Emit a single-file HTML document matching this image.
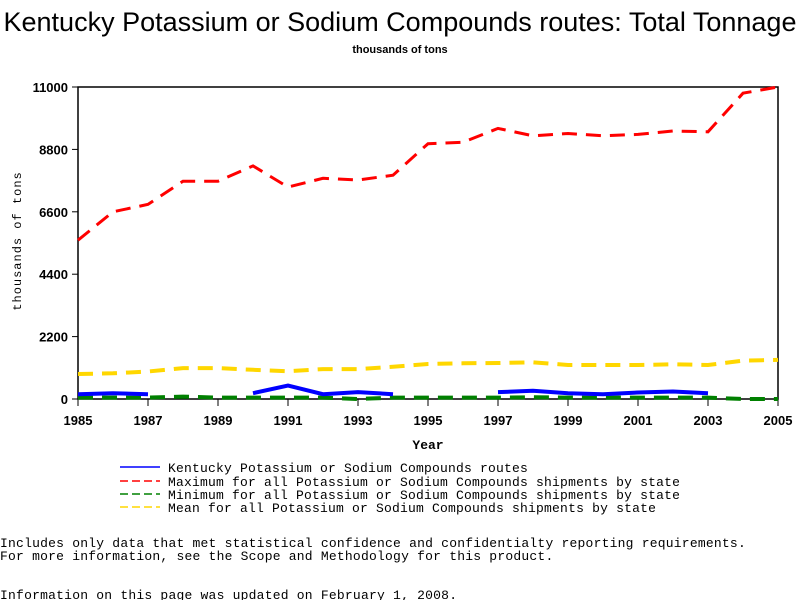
<!DOCTYPE html>
<html><head><meta charset="utf-8"><style>
body{margin:0;background:#fff;width:800px;height:600px;overflow:hidden}
svg{display:block}
.mono{font-family:"Liberation Mono",monospace;font-size:13px;letter-spacing:0.22px}
</style></head><body>
<svg id="chart" width="800" height="600" xmlns="http://www.w3.org/2000/svg">
<text x="400" y="31" text-anchor="middle" font-family="Liberation Sans, sans-serif" font-size="27">Kentucky Potassium or Sodium Compounds routes: Total Tonnage</text>
<text x="400" y="53" text-anchor="middle" font-family="Liberation Sans, sans-serif" font-size="11" font-weight="bold">thousands of tons</text>
<text transform="translate(21,241) rotate(-90)" text-anchor="middle" font-family="Liberation Mono, monospace" font-size="12" letter-spacing="1">thousands of tons</text>
<text x="428" y="449" text-anchor="middle" font-family="Liberation Mono, monospace" font-size="13" font-weight="bold">Year</text>
<g id="axes"></g>
<g id="series"></g>
<g font-family="Liberation Mono, monospace" font-size="13" letter-spacing="0.2">
<line x1="120" y1="467" x2="160" y2="467" stroke="#0000ff" stroke-width="1.5"/>
<text x="168" y="472">Kentucky Potassium or Sodium Compounds routes</text>
<line x1="120" y1="481" x2="160" y2="481" stroke="#ff0000" stroke-width="1.5" stroke-dasharray="8,4"/>
<text x="168" y="486">Maximum for all Potassium or Sodium Compounds shipments by state</text>
<line x1="120" y1="494" x2="160" y2="494" stroke="#008000" stroke-width="1.5" stroke-dasharray="8,4"/>
<text x="168" y="499">Minimum for all Potassium or Sodium Compounds shipments by state</text>
<line x1="120" y1="507" x2="160" y2="507" stroke="#ffd700" stroke-width="1.5" stroke-dasharray="8,4"/>
<text x="168" y="512">Mean for all Potassium or Sodium Compounds shipments by state</text>
</g>
<text x="0" y="547" class="mono">Includes only data that met statistical confidence and confidentialty reporting requirements.</text>
<text x="0" y="560" class="mono">For more information, see the Scope and Methodology for this product.</text>
<text x="0" y="599" class="mono">Information on this page was updated on February 1, 2008.</text>
</svg>
<script>
const years=[1985,1986,1987,1988,1989,1990,1991,1992,1993,1994,1995,1996,1997,1998,1999,2000,2001,2002,2003,2004,2005];
const kentucky=[170,206,170,null,null,206,472,170,242,170,null,null,242,290,206,170,230,266,206,null,null];
const maximum=[5600,6600,6860,7680,7680,8220,7470,7780,7720,7890,9000,9050,9540,9280,9360,9280,9330,9450,9420,10780,11000];
const minimum=[48,48,48,85,48,48,48,48,0,48,48,48,48,60,48,48,48,48,48,0,0];
const mean=[883,907,968,1089,1089,1028,980,1053,1053,1137,1234,1258,1270,1295,1198,1198,1198,1222,1198,1355,1380];
const yTicks=[0,2200,4400,6600,8800,11000];
const xTickLabels=[1985,1987,1989,1991,1993,1995,1997,1999,2001,2003,2005];
const NS="http://www.w3.org/2000/svg";
const X0=78,X1=778,Y0=399,Y1=87,YMAX=11000;
function xs(y){return X0+(y-1985)/(2005-1985)*(X1-X0);}
function ys(v){return Y0-v/YMAX*(Y0-Y1);}
function mk(tag,attrs,parent){const e=document.createElementNS(NS,tag);for(const k in attrs)e.setAttribute(k,attrs[k]);parent.appendChild(e);return e;}
const axes=document.getElementById('axes');
const frame=mk('rect',{x:X0,y:Y1,width:X1-X0,height:Y0-Y1,fill:'none',stroke:'#000','stroke-width':1.5},axes);


yTicks.forEach(t=>{
  const l=mk('line',{x1:X0-6,x2:X0,y1:ys(t),y2:ys(t),stroke:'#000','stroke-width':1},axes);
  
  
  const tx=mk('text',{x:X0-10,y:ys(t)+5,'text-anchor':'end','font-family':'Liberation Sans, sans-serif','font-size':13,'font-weight':'bold'},axes);
  tx.textContent=t;
  
  
});
xTickLabels.forEach(t=>{
  const l=mk('line',{x1:xs(t),x2:xs(t),y1:Y0,y2:Y0+7,stroke:'#000','stroke-width':1},axes);
  
  
  const tx=mk('text',{x:xs(t),y:Y0+26,'text-anchor':'middle','font-family':'Liberation Sans, sans-serif','font-size':13,'font-weight':'bold'},axes);
  tx.textContent=t;
  
  
});
const sg=document.getElementById('series');
function draw(vals,color,dash,w,name){
  let d='',pen=false;
  vals.forEach((v,i)=>{
    if(v===null){pen=false;return;}
    d+=(pen?'L':'M')+xs(years[i]).toFixed(1)+','+ys(v).toFixed(1)+' ';pen=true;
  });
  const p=mk('path',{d:d,fill:'none',stroke:color,'stroke-width':w,'stroke-dasharray':dash},sg);
  
  
}
draw(minimum,'#008000','15,9',4,'minimum-line');
draw(mean,'#ffd700','15,9',4,'mean-line');
draw(kentucky,'#0000ff','none',4,'kentucky-line');
draw(maximum,'#ff0000','15,9',3,'maximum-line');
</script>
</body></html>
